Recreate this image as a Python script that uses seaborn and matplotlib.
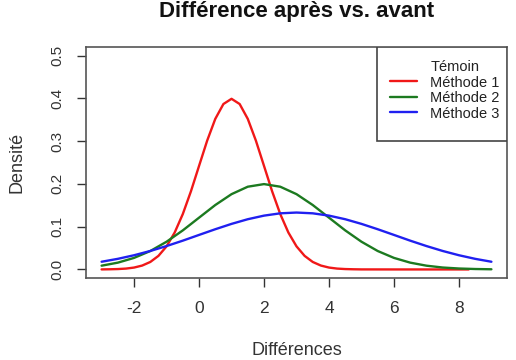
import numpy as np
import pandas as pd
import matplotlib
matplotlib.use("Agg")
import matplotlib.pyplot as plt
from matplotlib.lines import Line2D
from matplotlib.patches import Rectangle
import seaborn as sns

# values
x_m1 = [-3, -2.75, -2.5, -2.25, -2, -1.75, -1.5, -1.25, -1, -0.75, -0.5, -0.25, 0, 0.25, 0.5, 0.75,
        1, 1.25, 1.5, 1.75, 2, 2.25, 2.5, 2.75, 3, 3.25, 3.5, 3.75, 4, 4.25, 4.5, 4.75, 5, 6, 7, 8.3]
y_m1 = [0.0001, 0.0004, 0.0009, 0.002, 0.0044, 0.0091, 0.0175, 0.0317, 0.054, 0.0863, 0.1295, 0.1826,
        0.242, 0.3011, 0.352, 0.3867, 0.3989, 0.3867, 0.352, 0.3011, 0.242, 0.1826, 0.1295, 0.0863,
        0.054, 0.0317, 0.0175, 0.0091, 0.0044, 0.002, 0.0009, 0.0004, 0.0001, 0.0, 0.0, 0.0]

x_m23 = [-3, -2.5, -2, -1.5, -1, -0.5, 0, 0.5, 1, 1.5, 2, 2.5, 3, 3.5, 4, 4.5, 5, 5.5, 6, 6.5,
         7, 7.5, 8, 8.5, 9]
y_m2 = [0.0088, 0.0159, 0.027, 0.0431, 0.0648, 0.0913, 0.121, 0.1506, 0.176, 0.1934, 0.1995, 0.1934,
        0.176, 0.1506, 0.121, 0.0913, 0.0648, 0.0431, 0.027, 0.0159, 0.0088, 0.0045, 0.0022, 0.001, 0.0004]
y_m3 = [0.018, 0.0248, 0.0332, 0.0432, 0.0547, 0.0673, 0.0807, 0.094, 0.1065, 0.1174, 0.1258, 0.1312,
        0.133, 0.1312, 0.1258, 0.1174, 0.1065, 0.094, 0.0807, 0.0673, 0.0547, 0.0432, 0.0332, 0.0248, 0.018]

labels = ["Témoin", "Méthode 1", "Méthode 2", "Méthode 3"]
colors = ["none", "#f01818", "#1c7a20", "#2020f0"]
x_ticks = [-2, 0, 2, 4, 6, 8]
y_ticks = [0.0, 0.1, 0.2, 0.3, 0.4, 0.5]

sns.set_style("white")
plt.rcParams["font.family"] = ["Liberation Sans", "DejaVu Sans"]

df = pd.concat([
    pd.DataFrame({"x": x_m1, "y": y_m1, "serie": labels[1]}),
    pd.DataFrame({"x": x_m23, "y": y_m2, "serie": labels[2]}),
    pd.DataFrame({"x": x_m23, "y": y_m3, "serie": labels[3]}),
])

fig = plt.figure(figsize=(5.16, 3.6), dpi=100)
ax = fig.add_axes([86 / 516, 1 - 278 / 360, 421 / 516, 231 / 360])
sns.lineplot(data=df, x="x", y="y", hue="serie", palette=colors[1:], sort=False,
             estimator=None, linewidth=1.7, legend=False, ax=ax)

ax.set_xlim(-3.48, 9.48)
ax.set_ylim(-0.02, 0.52)
ax.set_xticks(x_ticks)
ax.set_xticklabels([str(t) for t in x_ticks])
ax.set_yticks(y_ticks)
ax.set_yticklabels(["%.1f" % t for t in y_ticks], rotation=90, va="center")
ax.tick_params(axis="both", direction="out", length=6.5, width=1, color="#333333",
               labelcolor="#333333")
ax.tick_params(axis="x", pad=10, labelsize=12.5)
ax.tick_params(axis="y", pad=9, labelsize=11)
ax.tick_params(bottom=True, left=True)
for s in ax.spines.values():
    s.set_color("#555555")
    s.set_linewidth(1.2)

ax.set_xlabel("Différences", fontsize=13, color="#333333", labelpad=19)
ax.set_ylabel("Densité", fontsize=13, color="#333333", labelpad=18)

fig.text(296.5 / 516, 1 - 17 / 360, "Différence après vs. avant", ha="center", va="baseline",
         fontsize=16, fontweight="bold", color="#111111")

# legend box drawn like R's
ax.add_patch(Rectangle((291 / 421, 1 - 94 / 231), 130 / 421, 94 / 231, transform=ax.transAxes,
                       facecolor="white", edgecolor="#444444", linewidth=1.2, zorder=4))
handles = [Line2D([], [], color=c, linewidth=1.7) for c in colors]
leg = ax.legend(handles, labels, loc="upper right", bbox_to_anchor=(1 + 6 / 421, 1),
                borderaxespad=0, fontsize=10.5, frameon=False, handlelength=1.85,
                handletextpad=0.9, labelspacing=0.1, borderpad=0.9)
leg.set_zorder(5)
for t in leg.get_texts():
    t.set_color("#222222")

fig.savefig("out.png", dpi=100)
